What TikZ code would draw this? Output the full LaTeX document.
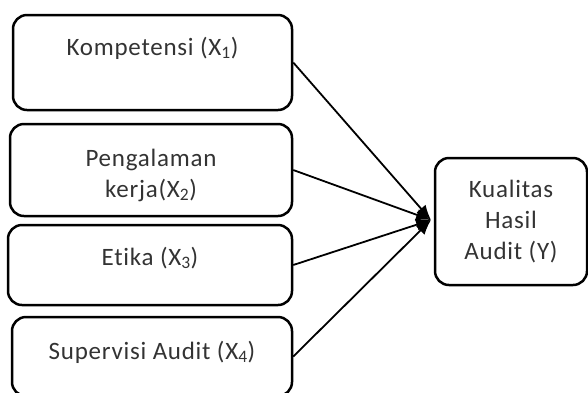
\documentclass[tikz,border=0pt]{standalone}
\usepackage{fontspec}
\setmainfont{Carlito}[LetterSpace=3,Ligatures=NoCommon]
\usetikzlibrary{arrows.meta,positioning}
\tikzset{
  varbox/.style={draw, line width=2.5pt, rounded corners=14pt, inner sep=0pt},
  vartext/.style={font=\fontsize{25}{31}\selectfont, text=black!80, align=center},
  link/.style={line width=1.8pt, -{Latex[length=15pt,width=12pt]}}
}
\begin{document}
\begin{tikzpicture}[x=1pt,y=-1pt]
  \useasboundingbox (0,0) rectangle (588,392);
  % variabel bebas
  \node[varbox, minimum width=279pt, minimum height=95pt] (komp) at (152.5,62.5) {};
  \node[varbox, minimum width=282pt, minimum height=92pt] (peng) at (151,170) {};
  \node[varbox, minimum width=284pt, minimum height=80pt] (etika) at (150,265) {};
  \node[varbox, minimum width=280pt, minimum height=79pt] (superv) at (152,356.5) {};
  \node[vartext] (kompT) at (152.5,48) {Kompetensi (X\textsubscript{1})};
  \node[vartext] (pengT) at (151,175) {Pengalaman\\kerja(X\textsubscript{2})};
  \node[vartext] (etikaT) at (150,258) {Etika (X\textsubscript{3})};
  \node[vartext] (supervT) at (152,352) {Supervisi Audit (X\textsubscript{4})};
  % variabel terikat
  \node[varbox, minimum width=152pt, minimum height=127pt] (kual) at (511,221.5) {};
  \node[vartext] (kualT) at (511,222) {Kualitas\\Hasil\\Audit (Y)};
  \coordinate (hub) at (431,220);
  \foreach \src in {komp,peng,etika,superv}
    \draw[link] (\src.east) -- (hub);
\end{tikzpicture}
\end{document}
